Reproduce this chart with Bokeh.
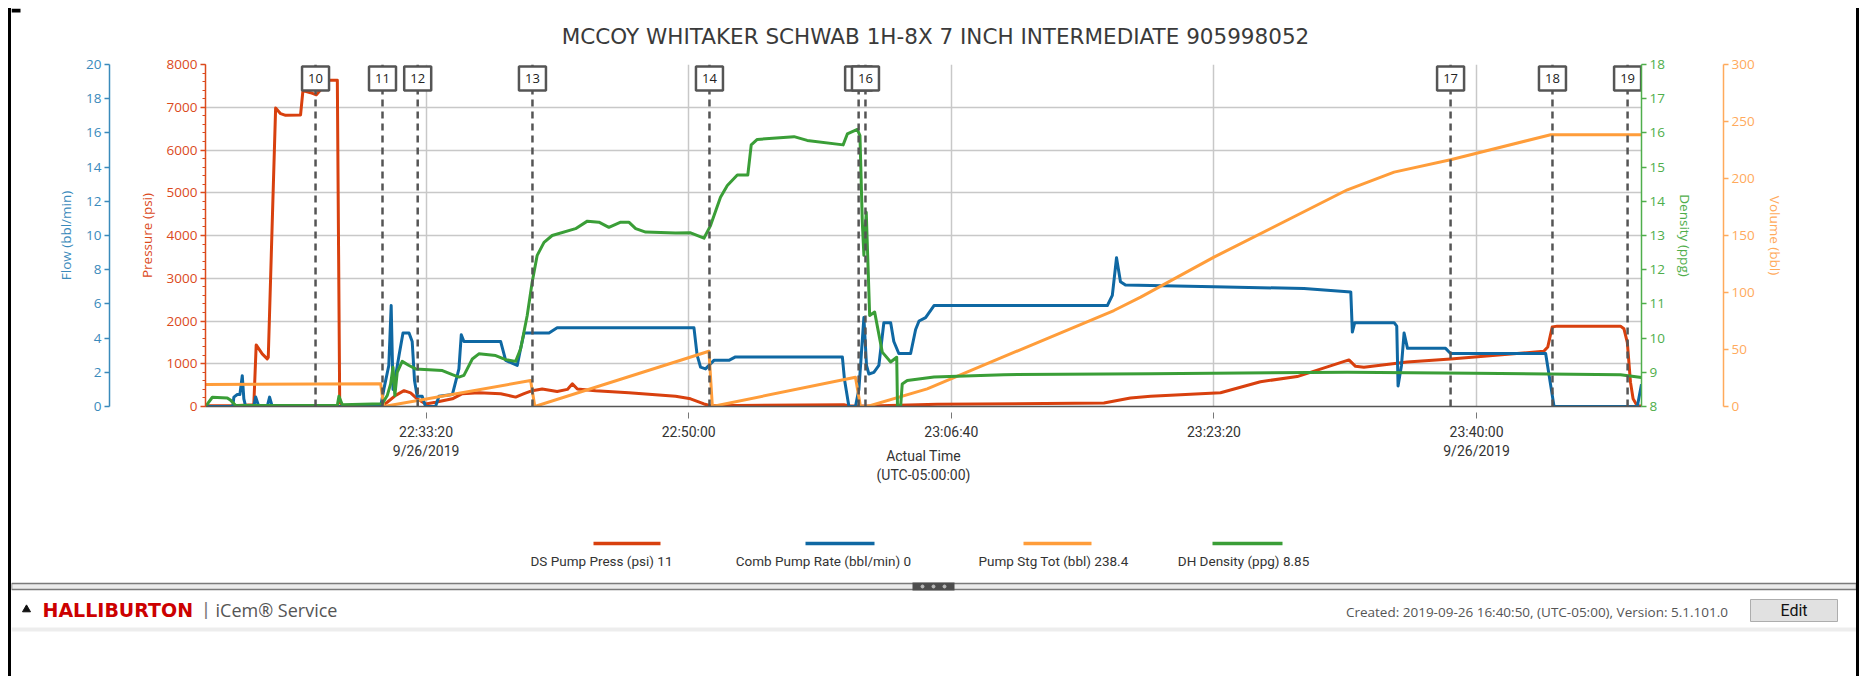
from bokeh.plotting import figure
from bokeh.models import Range1d, LinearAxis, FixedTicker
from bokeh.layouts import column
from bokeh.embed import file_html
from bokeh.resources import INLINE
from bokeh.core.properties import value

TITLE = "MCCOY WHITAKER SCHWAB 1H-8X 7 INCH INTERMEDIATE 905998052"

# ---------------- data ----------------
press_time = ["22:19:20", "22:21:02", "22:22:24", "22:22:33", "22:22:56", "22:23:15", "22:23:19", "22:23:47",
              "22:24:06", "22:24:25", "22:25:22", "22:25:31", "22:26:00", "22:26:22", "22:27:10", "22:27:42",
              "22:27:51", "22:28:01", "22:30:33", "22:30:52", "22:31:24", "22:31:56", "22:32:21", "22:32:46",
              "22:33:18", "22:33:56", "22:35:00", "22:35:38", "22:36:41", "22:38:04", "22:39:01", "22:39:33",
              "22:40:04", "22:40:42", "22:41:39", "22:42:18", "22:42:37", "22:42:56", "22:44:05", "22:46:12",
              "22:49:10", "22:50:07", "22:50:58", "22:51:23", "22:59:51", "23:00:10", "23:01:32", "23:05:46",
              "23:16:21", "23:18:02", "23:19:19", "23:23:45", "23:26:17", "23:28:37", "23:31:54", "23:32:19",
              "23:32:51", "23:35:36", "23:38:21", "23:44:16", "23:44:31", "23:44:48", "23:45:07", "23:49:08",
              "23:49:21", "23:49:34", "23:49:46", "23:49:56", "23:50:12", "23:50:28"]
press_psi = [20, 20, 40, 1440, 1230, 1115, 1150, 6980,
             6850, 6810, 6820, 7390, 7340, 7290, 7630, 7630,
             100, 20, 20, 100, 260, 370, 320, 180,
             60, 100, 180, 300, 320, 300, 220, 300,
             370, 410, 350, 400, 530, 410, 370, 320,
             240, 180, 60, 20, 40, 10, 10, 50,
             80, 200, 240, 320, 580, 700, 1090, 940,
             920, 1040, 1110, 1290, 1390, 1860, 1880, 1880,
             1820, 1500, 570, 180, 10, 11]

flow_time = ["22:19:20", "22:21:04", "22:21:08", "22:21:21", "22:21:31", "22:21:40", "22:21:46", "22:21:53",
             "22:22:24", "22:22:31", "22:22:43", "22:23:15", "22:23:24", "22:23:34", "22:30:27", "22:30:39",
             "22:30:58", "22:31:07", "22:31:14", "22:31:24", "22:31:37", "22:31:52", "22:32:15", "22:32:27",
             "22:32:36", "22:32:46", "22:33:05", "22:33:18", "22:33:56", "22:34:09", "22:35:00", "22:35:25",
             "22:35:34", "22:35:44", "22:38:04", "22:38:23", "22:39:07", "22:39:20", "22:39:33", "22:41:08",
             "22:41:39", "22:50:20", "22:50:32", "22:50:45", "22:51:04", "22:51:36", "22:52:33", "22:52:58",
             "22:59:45", "22:59:53", "23:00:10", "23:00:35", "23:00:48", "23:01:07", "23:01:17", "23:01:26",
             "23:01:45", "23:02:04", "23:02:23", "23:02:49", "23:03:01", "23:03:20", "23:04:05", "23:04:24",
             "23:04:37", "23:05:02", "23:05:34", "23:16:34", "23:16:53", "23:17:09", "23:17:24", "23:17:43",
             "23:23:20", "23:29:03", "23:32:01", "23:32:07", "23:32:16", "23:34:46", "23:34:56", "23:35:01",
             "23:35:14", "23:35:24", "23:35:37", "23:38:02", "23:38:21", "23:44:23", "23:44:55", "23:50:12",
             "23:50:28"]
flow_rate = [0, 0, 0.55, 0.7, 0.7, 1.8, 0.45, 0,
             0, 0.55, 0, 0, 0.55, 0, 0, 1.0,
             2.4, 5.9, 1.0, 1.8, 3.0, 4.3, 4.3, 3.8,
             1.5, 0.6, 0.6, 0, 0, 0.6, 0.7, 2.2,
             4.2, 3.8, 3.8, 2.7, 2.4, 3.4, 4.3, 4.3,
             4.6, 4.6, 3.0, 2.3, 2.2, 2.7, 2.7, 2.9,
             2.9, 1.6, 0, 0, 1.0, 5.2, 2.4, 1.9,
             2.0, 2.4, 4.9, 4.9, 3.8, 3.1, 3.1, 4.5,
             5.0, 5.2, 5.9, 5.9, 6.5, 8.7, 7.3, 7.1,
             7.0, 6.9, 6.7, 4.35, 4.9, 4.9, 4.7, 1.2,
             2.4, 4.3, 3.4, 3.4, 3.1, 3.1, 0, 0,
             1.3]

dens_time = ["22:19:20", "22:19:46", "22:20:43", "22:20:56", "22:21:15", "22:27:42", "22:27:48", "22:28:01",
             "22:30:33", "22:30:52", "22:31:05", "22:31:14", "22:31:21", "22:31:30", "22:31:49", "22:32:15",
             "22:32:40", "22:34:22", "22:35:00", "22:35:25", "22:35:44", "22:36:16", "22:36:41", "22:37:45",
             "22:38:23", "22:39:01", "22:39:20", "22:39:45", "22:40:04", "22:40:23", "22:40:49", "22:41:20",
             "22:42:49", "22:43:34", "22:44:18", "22:44:56", "22:45:41", "22:46:12", "22:46:38", "22:47:16",
             "22:49:10", "22:50:07", "22:50:58", "22:51:23", "22:52:01", "22:52:27", "22:53:05", "22:53:45",
             "22:53:58", "22:54:21", "22:56:41", "22:57:31", "22:59:48", "23:00:04", "23:00:42", "23:00:52",
             "23:01:01", "23:01:07", "23:01:16", "23:01:29", "23:01:48", "23:02:17", "23:02:49", "23:03:12",
             "23:03:15", "23:03:27", "23:03:33", "23:03:52", "23:05:34", "23:10:00", "23:19:19", "23:31:48",
             "23:39:50", "23:49:08", "23:50:28"]
dens_ppg = [8.0, 8.27, 8.25, 8.18, 8.03, 8.03, 8.3, 8.05,
            8.08, 8.32, 8.66, 9.15, 8.32, 9.0, 9.32, 9.2,
            9.1, 9.05, 8.93, 8.86, 8.91, 9.39, 9.54, 9.49,
            9.37, 9.32, 9.69, 10.66, 11.64, 12.42, 12.8, 13.0,
            13.2, 13.42, 13.39, 13.24, 13.39, 13.39, 13.2, 13.1,
            13.07, 13.08, 12.92, 13.29, 14.12, 14.46, 14.77, 14.77,
            15.65, 15.81, 15.89, 15.78, 15.65, 15.97, 16.1, 15.92,
            13.39, 12.42, 13.68, 10.66, 10.76, 9.59, 9.3, 9.44,
            8.0, 8.0, 8.66, 8.76, 8.86, 8.93, 8.96, 9.0,
            8.97, 8.93, 8.85]

vol_time = ["22:19:20", "22:30:27", "22:30:39", "22:39:58", "22:40:14", "22:51:17", "22:51:30", "23:00:35",
            "23:00:54", "23:01:20", "23:05:08", "23:16:59", "23:18:41", "23:23:20", "23:31:48", "23:34:46",
            "23:38:21", "23:44:42", "23:50:28"]
vol_bbl = [19.3, 19.9, 0, 22.8, 0, 48.5, 0, 25.7,
           0, 0, 15.5, 84.2, 95.9, 131.0, 190.1, 205.6,
           216.4, 238.4, 238.4]

marker_labels = ["10", "11", "12", "13", "14", "15", "16", "17", "18", "19"]
marker_time = ["22:26:19", "22:30:34", "22:32:48", "22:40:05", "22:51:19", "23:00:47", "23:01:13",
               "23:38:21", "23:44:49", "23:49:35"]

x_start, x_end = "22:19:20", "23:50:28"
tick_times = ["22:33:20", "22:50:00", "23:06:40", "23:23:20", "23:40:00"]
tick_labels = ["22:33:20\n9/26/2019", "22:50:00", "23:06:40", "23:23:20", "23:40:00\n9/26/2019"]

legend_names = ["DS Pump Press (psi)", "Comb Pump Rate (bbl/min)", "Pump Stg Tot (bbl)", "DH Density (ppg)"]
legend_values = ["11", "0", "238.4", "8.85"]


def sec(t):
    h, m, s = (int(v) for v in t.split(":"))
    return h * 3600 + m * 60 + s


# ---------------- styles ----------------
RED, BLUE, ORANGE, GREEN = "#d8400e", "#0f68a3", "#ff9d3a", "#3a9e37"
AX_RED, AX_BLUE, AX_GREEN, AX_ORANGE = "#db4a1c", "#3a8abb", "#4fae4b", "#ffaa5c"
TXT = "#333333"
FONT = "Open Sans"
FONT2 = "Roboto"

W = 1845
X0, Y0 = 11, 8          # page position of the strips (margin + border)


def strip(height, top):
    """A plain drawing strip whose data units are page pixels."""
    f = figure(width=W, height=height, output_backend="svg", toolbar_location=None,
               x_range=Range1d(X0, X0 + W), y_range=Range1d(top + height, top),
               min_border=0, min_border_left=0, min_border_right=0, min_border_top=0,
               min_border_bottom=0, x_axis_location=None, y_axis_location=None)
    if "frame_align" in f.properties():
        f.frame_align = False
    f.outline_line_color = None
    f.grid.visible = False
    return f


# ---------------- title strip ----------------
HT = 40
t = strip(HT, Y0)
t.text(x=[935], y=[36], text=[TITLE], text_align="center", text_baseline="middle",
       text_font=value("DejaVu Sans"), text_font_size="21.5px", text_color="#3a3a3a")
t.quad(left=[X0], right=[20], top=[Y0], bottom=[Y0 + 4], fill_color="#000000", line_color=None)

# ---------------- main chart ----------------
H1 = 452
TOP1 = Y0 + HT
FRAME_L, FRAME_R, FRAME_T, FRAME_B = 194, 1630, 64 - TOP1, 406 - TOP1
FRAME_H = FRAME_B - FRAME_T

p = figure(width=W, height=H1, output_backend="svg", toolbar_location=None,
           x_range=Range1d(sec(x_start), sec(x_end)), y_range=Range1d(0, 8000),
           min_border_left=FRAME_L, min_border_right=W - FRAME_R,
           min_border_top=FRAME_T, min_border_bottom=H1 - FRAME_B)
if "frame_align" in p.properties():
    p.frame_align = False
p.outline_line_color = None
p.background_fill_color = "white"
p.border_fill_color = "white"

p.extra_y_ranges = {"flow": Range1d(0, 20), "dens": Range1d(8, 18), "vol": Range1d(0, 300)}

# grids
p.xgrid.grid_line_color = "#c8c8c8"
p.ygrid.grid_line_color = "#c8c8c8"
p.xgrid.grid_line_width = 1.5
p.ygrid.grid_line_width = 1.5

# x axis
xa = p.xaxis[0]
xa.ticker = FixedTicker(ticks=[sec(tt) for tt in tick_times])
xa.major_label_overrides = {sec(tt): lab for tt, lab in zip(tick_times, tick_labels)}
xa.axis_line_color = "#555555"
xa.axis_line_width = 1.5
xa.major_tick_line_color = "#777777"
xa.major_tick_in = -6
xa.major_tick_out = 12
xa.minor_tick_line_color = None
xa.major_label_standoff = 5
xa.major_label_text_font = FONT2
xa.major_label_text_font_size = "14px"
xa.major_label_text_color = TXT
xa.axis_label = "Actual Time\n(UTC-05:00:00)"
xa.axis_label_standoff = -14
xa.axis_label_text_font = FONT2
xa.axis_label_text_font_size = "14px"
xa.axis_label_text_font_style = "normal"
xa.axis_label_text_color = TXT


def style_axis(ax, color, label, ticks, minor=None):
    ax.ticker = FixedTicker(ticks=ticks, minor_ticks=minor or [])
    ax.axis_line_color = color
    ax.axis_line_width = 1.5
    ax.major_tick_line_color = color
    ax.major_tick_line_width = 1.5
    ax.minor_tick_line_color = color if minor else None
    ax.major_tick_in = 0
    ax.major_tick_out = 5
    ax.minor_tick_in = 0
    ax.minor_tick_out = 3
    ax.major_label_text_color = color
    ax.major_label_text_font = FONT
    ax.major_label_text_font_size = "13.5px"
    ax.major_label_standoff = 3
    ax.axis_label = label
    ax.axis_label_text_color = color
    ax.axis_label_text_font = FONT
    ax.axis_label_text_font_size = "13.5px"
    ax.axis_label_text_font_style = "normal"
    ax.axis_label_standoff = 8


def spacer(range_name, standoff):
    return LinearAxis(y_range_name=range_name, ticker=FixedTicker(ticks=[]),
                      axis_line_color=None, major_tick_line_color=None, minor_tick_line_color=None,
                      major_tick_in=0, major_tick_out=0, minor_tick_in=0, minor_tick_out=0,
                      major_label_standoff=0, major_label_text_font_size="0px",
                      axis_label=" ", axis_label_text_font_size="10px",
                      axis_label_standoff=standoff, axis_label_text_alpha=0)


style_axis(p.yaxis[0], AX_RED, "Pressure (psi)", list(range(0, 8001, 1000)), list(range(0, 8001, 200)))
p.add_layout(spacer("default", 11), "left")
flow_ax = LinearAxis(y_range_name="flow")
style_axis(flow_ax, AX_BLUE, "Flow (bbl/min)", list(range(0, 21, 2)))
p.add_layout(flow_ax, "left")

dens_ax = LinearAxis(y_range_name="dens")
style_axis(dens_ax, AX_GREEN, "Density (ppg)", list(range(8, 19)))
p.add_layout(dens_ax, "right")
p.add_layout(spacer("dens", 13), "right")
vol_ax = LinearAxis(y_range_name="vol")
style_axis(vol_ax, AX_ORANGE, "Volume (bbl)", list(range(0, 301, 50)))
p.add_layout(vol_ax, "right")

# series
p.line([sec(tt) for tt in press_time], press_psi, line_color=RED, line_width=3, line_join="round")
p.line([sec(tt) for tt in flow_time], flow_rate, y_range_name="flow", line_color=BLUE, line_width=3,
       line_join="round")
p.line([sec(tt) for tt in vol_time], vol_bbl, y_range_name="vol", line_color=ORANGE, line_width=3,
       line_join="round")
p.line([sec(tt) for tt in dens_time], dens_ppg, y_range_name="dens", line_color=GREEN, line_width=3,
       line_join="round")

# event markers
mx = [sec(tt) for tt in marker_time]
p.segment(x0=mx, y0=[0] * len(mx), x1=mx, y1=[8000] * len(mx), line_color="#555555", line_width=2.5,
          line_dash="7 5")
y_box = 8000 - 14 * 8000 / FRAME_H
for x, lab in zip(mx, marker_labels):
    p.rect(x=[x], y=[y_box], width=27, height=24, width_units="screen", height_units="screen",
           fill_color="white", line_color="#555555", line_width=2.5)
    p.text(x=[x], y=[y_box], text=[lab], text_align="center", text_baseline="middle",
           text_font=value(FONT), text_font_size="13px", text_color="#222222")

# ---------------- legend + footer strip ----------------
H2 = 176
q = strip(H2, TOP1 + H1)

leg_colors = [RED, BLUE, ORANGE, GREEN]
leg_x0 = [593, 805, 1023, 1212]
leg_x1 = [660, 874, 1091, 1282]
leg_cx = [601, 823, 1053, 1243]
q.segment(x0=leg_x0, y0=[543] * 4, x1=leg_x1, y1=[543] * 4, line_color=leg_colors, line_width=3.5)
q.text(x=leg_cx, y=[560] * 4, text=[f"{n} {v}" for n, v in zip(legend_names, legend_values)],
       text_align="center", text_baseline="middle", text_font=value(FONT2), text_font_size="13.5px",
       text_color=TXT)

# splitter bar
q.quad(left=[X0], right=[X0 + W], top=[583], bottom=[589], fill_color="#ebebeb", line_color="#7a7a7a",
       line_width=1.5)
q.quad(left=[912], right=[954], top=[582], bottom=[590], fill_color="#4d4d4d", line_color=None)
q.scatter(x=[922, 933, 944], y=[586] * 3, size=3, color="#bbbbbb")

# footer
q.scatter(x=[26], y=[609], marker="triangle", size=8, color="#111111")
q.text(x=[42], y=[609], text=["HALLIBURTON"], text_font=value("DejaVu Sans"), text_font_style="bold",
       text_font_size="19px", text_color="#cc0000", text_baseline="middle")
q.text(x=[203], y=[609], text=["|"], text_font=value(FONT2), text_font_size="20px", text_color="#777777",
       text_baseline="middle")
q.text(x=[215], y=[609], text=["iCem® Service"], text_font=value(FONT), text_font_size="18px",
       text_color="#555555", text_baseline="middle")
q.text(x=[1738], y=[611], text=["Created: 2019-09-26  16:40:50, (UTC-05:00),   Version: 5.1.101.0"],
       text_font=value(FONT), text_font_size="13.5px", text_color="#555555", text_align="right",
       text_baseline="middle")
q.quad(left=[1750], right=[1837], top=[599], bottom=[621], fill_color="#e1e1e1", line_color="#adadad",
       line_width=1)
q.text(x=[1793.5], y=[610], text=["Edit"], text_font=value(FONT2), text_font_size="16px",
       text_color="#111111", text_align="center", text_baseline="middle")
q.quad(left=[X0], right=[X0 + W], top=[627], bottom=[631], fill_color="#ededed", line_color=None)

layout = column(t, p, q, margin=(8, 0, 0, 8),
                styles={"border-left": "3px solid #000", "border-right": "3px solid #000"})

with open("out.html", "w") as f:
    f.write(file_html(layout, INLINE))
